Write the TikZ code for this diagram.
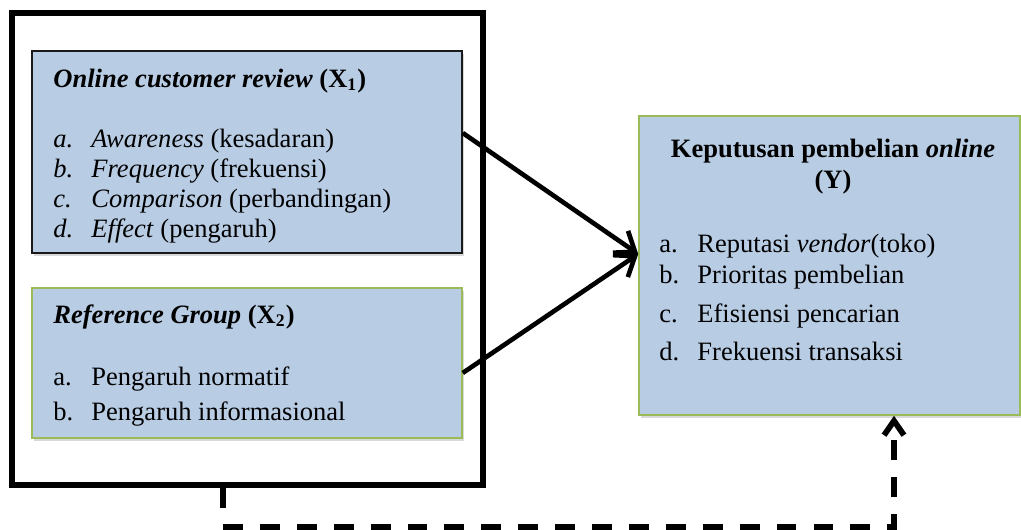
\documentclass[tikz,border=0pt]{standalone}
\usepackage{fontspec}
\setmainfont{Liberation Serif}
\usetikzlibrary{arrows.meta,positioning,calc,fit,shadows}
\definecolor{boxblue}{HTML}{B8CCE4}
\definecolor{boxgreen}{HTML}{9BBB59}
\definecolor{boxedge}{HTML}{1A1A1A}

\tikzset{
  varbox/.style={draw=boxedge, fill=boxblue, line width=0.7pt, inner sep=0pt,
    drop shadow={opacity=0.3, shadow xshift=0.9pt, shadow yshift=-1.3pt}},
  txt/.style={anchor=base west, inner sep=0pt, font=\fontsize{12}{14}\selectfont},
  link/.style={line width=2.1pt, -{Straight Barb[length=8pt,width=12pt]}},
  feedback/.style={line width=2.6pt, dash pattern=on 9pt off 7.7pt,
    -{Straight Barb[length=6.5pt,width=9pt]}},
}

\begin{document}
\begin{tikzpicture}[x=0.4525pt,y=-0.4525pt]
    \useasboundingbox (0,0) rectangle (1021,530);
    % outer frame round the two variables
    \node[draw, line width=2.4pt, inner sep=0pt, fit={(12,13) (483,485)}] (frame) {};
    % X1
    \node[varbox, fit={(32,51) (462,253)}] (x1) {};
    \node[txt] (x1t) at (53,87) {\textbf{\textit{Online customer review} (X\textsubscript{1})}};
    \foreach \l/\w/\r [count=\i] in {a/Awareness/kesadaran, b/Frequency/frekuensi,
        c/Comparison/perbandingan, d/Effect/pengaruh} {
      \node[txt] (x1l\i) at (53,117+30*\i) {\textit{\l.}};
      \node[txt] (x1i\i) at (91,117+30*\i) {\textit{\w} (\r)};
    }
    % X2
    \node[varbox, draw=boxgreen, fit={(32,288) (462,438)}] (x2) {};
    \node[txt] (x2t) at (53,323) {\textbf{\textit{Reference Group} (X\textsubscript{2})}};
    \node[txt] (x2l1) at (53,385) {a.};
    \node[txt] (x2i1) at (91,385) {Pengaruh normatif};
    \node[txt] (x2l2) at (53,420) {b.};
    \node[txt] (x2i2) at (91,420) {Pengaruh informasional};
    % Y
    \node[varbox, draw=boxgreen, fit={(639,116) (1020,415)}] (y) {};
    \node[txt, anchor=base] (yt1) at (833,157) {\textbf{Keputusan pembelian \textit{online}}};
    \node[txt, anchor=base] (yt2) at (833,188) {\textbf{(Y)}};
    \foreach \l/\w/\b [count=\i] in {a/Reputasi \textit{vendor}(toko)/252,
        b/Prioritas pembelian/283, c/Efisiensi pencarian/322, d/Frekuensi transaksi/360} {
      \node[txt] (yl\i) at (659,\b) {\l.};
      \node[txt] (yi\i) at (697,\b) {\w};
    }
    % arrows into Y
    \draw[link] ([yshift=8.6pt]x1.east) -- ([yshift=5.2pt]y.west);
    \draw[link] ([yshift=-4.5pt]x2.east) -- ([yshift=5.2pt]y.west);
    % dashed link from the frame to Y
    \coordinate (turnL) at (223,527);
    \coordinate (turnR) at (894,527);
    \draw[line width=2.6pt] ([xshift=-11.1pt]frame.south) -- ++(0,20);
    \draw[feedback] (turnL) -- (turnR) -- (y.south -| turnR);
\end{tikzpicture}
\end{document}
